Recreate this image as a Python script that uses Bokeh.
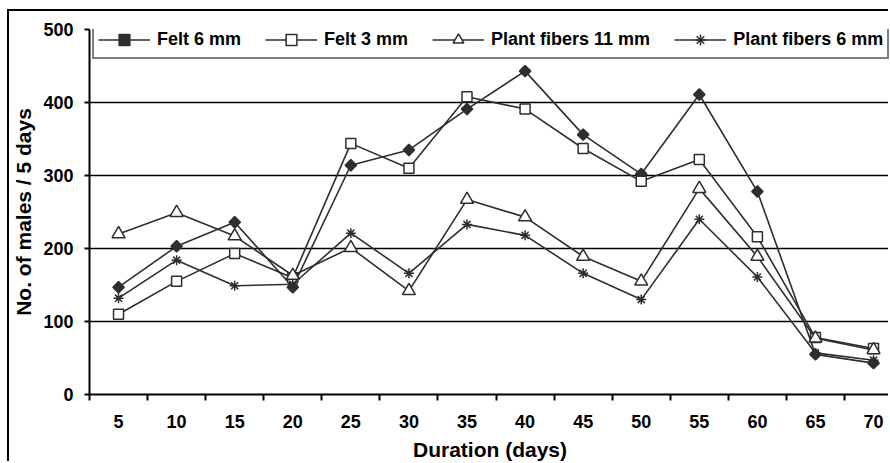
from bokeh.plotting import figure
from bokeh.models import Range1d, FixedTicker, Legend, LegendItem
from bokeh.embed import file_html
from bokeh.resources import INLINE
import numpy as np

# ---- data ----
durations = [5, 10, 15, 20, 25, 30, 35, 40, 45, 50, 55, 60, 65, 70]
felt_6mm = [147, 203, 236, 147, 314, 335, 391, 443, 356, 302, 411, 278, 55, 43]
felt_3mm = [110, 155, 193, 160, 344, 310, 408, 391, 337, 292, 322, 216, 78, 63]
plant_11mm = [220, 249, 217, 163, 201, 142, 267, 243, 189, 155, 282, 189, 77, 61]
plant_6mm = [132, 184, 149, 151, 221, 166, 233, 218, 166, 130, 240, 161, 57, 47]
y_ticks = [0, 100, 200, 300, 400, 500]

FONT = "Liberation Sans"
INK = "#2e2e2e"

p = figure(width=881, height=452, output_backend="svg", toolbar_location=None,
           x_range=Range1d(2.5, 71.46), y_range=Range1d(0, 500),
           min_border_left=80, min_border_right=0, min_border_top=18, min_border_bottom=67)
p.styles = {"margin-left": "7px", "margin-top": "9px",
            "border-top": "2px solid black", "border-left": "2px solid black"}
p.outline_line_color = None
p.background_fill_color = "white"
p.border_fill_color = "white"

# axes
xa = p.xaxis[0]
xa.ticker = FixedTicker(ticks=durations, minor_ticks=[d - 2.5 for d in durations] + [72.5])
xa.major_tick_line_color = None
xa.major_tick_out = 0
xa.major_tick_in = 0
xa.minor_tick_out = 6
xa.minor_tick_in = 0
xa.minor_tick_line_color = "black"
xa.minor_tick_line_width = 2
xa.axis_line_width = 2
xa.axis_line_color = "black"
xa.major_label_standoff = 14
xa.major_label_text_font = FONT
xa.major_label_text_font_style = "bold"
xa.major_label_text_font_size = "18px"
xa.major_label_text_color = "black"
xa.axis_label = "Duration (days)"
xa.axis_label_standoff = 7
xa.axis_label_text_font = FONT
xa.axis_label_text_font_style = "bold"
xa.axis_label_text_font_size = "21px"
xa.axis_label_text_color = "black"

ya = p.yaxis[0]
ya.ticker = FixedTicker(ticks=y_ticks, minor_ticks=[])
ya.major_tick_out = 5
ya.major_tick_in = 0
ya.major_tick_line_width = 2
ya.major_tick_line_color = "black"
ya.axis_line_width = 2
ya.axis_line_color = "black"
ya.major_label_standoff = 11
ya.major_label_text_font = FONT
ya.major_label_text_font_style = "bold"
ya.major_label_text_font_size = "18px"
ya.major_label_text_color = "black"
ya.axis_label = "No. of males / 5 days"
ya.axis_label_standoff = 5
ya.axis_label_text_font = FONT
ya.axis_label_text_font_style = "bold"
ya.axis_label_text_font_size = "21px"
ya.axis_label_text_color = "black"

p.xgrid.grid_line_color = None
p.ygrid.ticker = FixedTicker(ticks=y_ticks)
p.ygrid.grid_line_color = "black"
p.ygrid.grid_line_width = 1.6

# series
series = [
    ("Felt 6 mm", felt_6mm, dict(marker="square", angle=np.pi / 4, size=8, fill_color=INK, line_color=INK)),
    ("Felt 3 mm", felt_3mm, dict(marker="square", size=10, fill_color="white", line_color=INK)),
    ("Plant fibers 11 mm", plant_11mm, dict(marker="triangle", size=13, fill_color="white", line_color=INK)),
    ("Plant fibers 6 mm", plant_6mm, dict(marker="asterisk", size=10, fill_color=None, line_color=INK)),
]
items = []
for name, vals, mk in series:
    lr = p.line(durations, vals, line_color=INK, line_width=1.6)
    sr = p.scatter(durations, vals, line_width=1.5, **mk)
    items.append(LegendItem(label=name, renderers=[lr, sr]))

legend = Legend(items=items, orientation="horizontal", location=(3, 335),
                glyph_width=52, glyph_height=27, label_height=17, label_standoff=7,
                spacing=24, padding=4, margin=0,
                label_text_font=FONT, label_text_font_style="bold",
                label_text_font_size="18px", label_text_color="black",
                border_line_color="black", border_line_width=2,
                background_fill_color="white", background_fill_alpha=1.0)
p.add_layout(legend)

open("out.html", "w").write(file_html(p, INLINE))
